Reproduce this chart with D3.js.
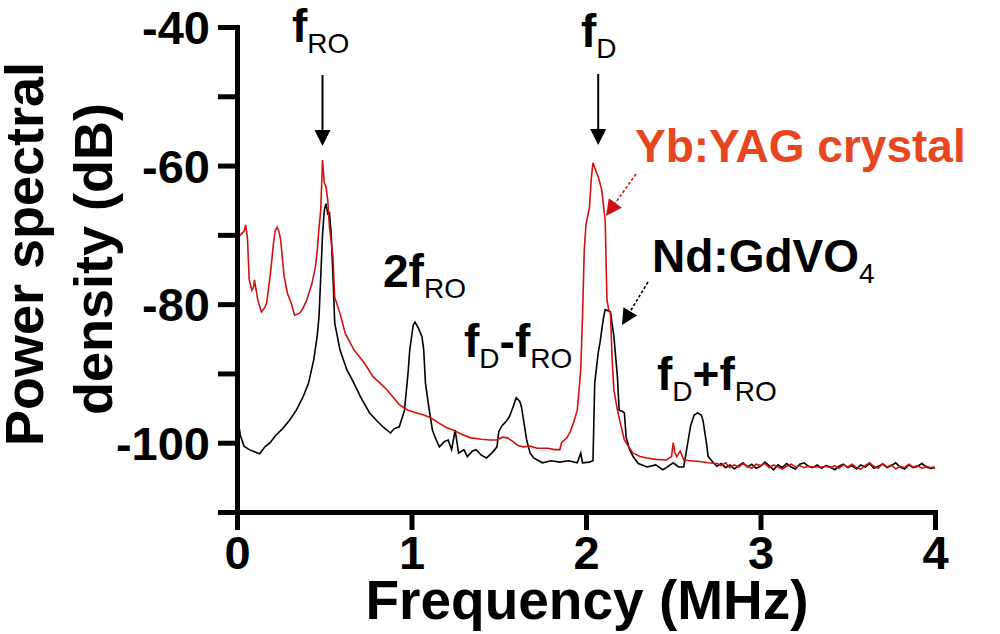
<!DOCTYPE html>
<html>
<head>
<meta charset="utf-8">
<script src="https://cdn.jsdelivr.net/npm/d3@7"></script>
<style>
  body { margin: 0; background: #fff; }
  svg text { font-family: "Liberation Sans", Arial, sans-serif; }
</style>
</head>
<body>
<script>

// ---------------- data ----------------

// Nd:GdVO4 (black)
const ndFreq = [0.00,0.02,0.04,0.07,0.10,0.13,0.16,0.19,0.22,0.26,0.30,0.34,0.38,0.41,0.44,0.46,0.47,0.48,0.49,0.50,
  0.51,0.52,0.53,0.54,0.55,0.56,0.59,0.63,0.67,0.71,0.76,0.80,0.84,0.88,0.90,0.93,0.96,0.98,0.99,1.01,
  1.02,1.04,1.06,1.07,1.08,1.10,1.12,1.14,1.16,1.19,1.21,1.23,1.25,1.27,1.30,1.32,1.35,1.37,1.40,1.43,
  1.46,1.49,1.50,1.52,1.54,1.56,1.58,1.60,1.62,1.63,1.65,1.66,1.68,1.70,1.75,1.80,1.85,1.90,1.95,1.97,
  1.98,2.02,2.04,2.05,2.07,2.08,2.10,2.11,2.13,2.14,2.16,2.18,2.19,2.21,2.22,2.23,2.25,2.27,2.30,2.35,
  2.40,2.44,2.46,2.50,2.53,2.56,2.58,2.60,2.62,2.64,2.66,2.67,2.69,2.70,2.73,
  2.750,2.775,2.800,2.825,2.850,2.875,2.900,2.925,2.950,2.975,3.000,3.025,3.050,3.075,3.100,3.125,3.150,
  3.175,3.200,3.225,3.250,3.275,3.300,3.325,3.350,3.375,3.400,3.425,3.450,3.475,3.500,3.525,3.550,3.575,
  3.600,3.625,3.650,3.675,3.700,3.725,3.750,3.775,3.800,3.825,3.850,3.875,3.900,3.925,3.950,3.975,4.000];
const ndPsd = [-96.0,-99.0,-100.5,-101.0,-101.3,-101.6,-100.6,-100.0,-99.0,-98.0,-96.8,-95.3,-93.3,-91.4,-88.0,-84.5,-81.8,-76.0,-70.0,-66.5,
  -65.5,-67.0,-66.8,-70.0,-76.0,-82.7,-86.6,-89.5,-91.4,-93.5,-95.7,-96.8,-97.8,-98.6,-98.0,-97.7,-95.3,-90.0,-86.6,-83.0,
  -82.6,-83.5,-84.7,-86.6,-91.4,-95.0,-98.2,-99.5,-100.6,-99.8,-99.6,-101.0,-98.2,-101.5,-101.0,-102.0,-101.2,-101.0,-101.8,-102.2,
  -101.5,-100.6,-98.4,-97.5,-97.0,-96.3,-95.0,-93.5,-94.0,-94.8,-98.0,-99.6,-101.5,-102.2,-102.9,-102.6,-102.8,-102.6,-102.9,-101.5,
  -102.9,-102.8,-102.6,-91.4,-87.0,-85.6,-82.0,-80.8,-81.0,-81.1,-84.7,-90.5,-95.3,-95.5,-95.7,-99.2,-101.0,-102.0,-103.0,-103.5,
  -103.2,-103.9,-103.6,-102.9,-103.5,-103.5,-100.5,-97.5,-96.0,-95.7,-96.0,-96.7,-100.0,-102.0,-102.9,
  -103.4,-103.0,-103.6,-103.2,-103.8,-103.3,-102.9,-103.5,-103.1,-103.7,-103.4,-102.8,-103.3,-103.9,-103.2,-103.6,-103.0,
  -103.5,-103.8,-103.1,-102.9,-103.4,-103.6,-103.2,-103.7,-103.3,-103.5,-103.9,-103.4,-103.1,-103.6,-103.3,-103.8,-103.2,
  -103.5,-103.0,-103.7,-103.4,-103.1,-103.6,-103.3,-102.9,-103.5,-103.8,-103.2,-103.6,-103.4,-103.0,-103.5,-103.7,-103.6];

// Yb:YAG crystal (red)
const ybFreq = [0.00,0.02,0.04,0.05,0.06,0.07,0.085,0.095,0.10,0.12,0.14,0.16,0.17,0.19,0.21,0.22,0.23,0.24,0.25,0.27,
  0.29,0.31,0.33,0.36,0.38,0.40,0.43,0.45,0.46,0.47,0.48,0.49,0.50,0.51,0.52,0.53,0.55,0.56,0.59,0.62,
  0.67,0.73,0.78,0.82,0.86,0.93,0.98,1.03,1.07,1.11,1.16,1.20,1.24,1.29,1.34,1.40,1.45,1.49,1.52,1.55,
  1.58,1.61,1.64,1.68,1.72,1.78,1.82,1.85,1.86,1.89,1.91,1.93,1.95,1.96,1.97,1.98,1.99,2.00,2.02,2.03,
  2.04,2.06,2.07,2.09,2.11,2.12,2.13,2.14,2.15,2.16,2.18,2.20,2.22,2.25,2.27,2.31,2.35,2.40,2.46,2.49,
  2.50,2.51,2.52,2.54,2.56,2.60,2.65,2.70,
  2.750,2.775,2.800,2.825,2.850,2.875,2.900,2.925,2.950,2.975,3.000,3.025,3.050,3.075,3.100,3.125,3.150,
  3.175,3.200,3.225,3.250,3.275,3.300,3.325,3.350,3.375,3.400,3.425,3.450,3.475,3.500,3.525,3.550,3.575,
  3.600,3.625,3.650,3.675,3.700,3.725,3.750,3.775,3.800,3.825,3.850,3.875,3.900,3.925,3.950,3.975,4.000];
const ybPsd = [-70.5,-70.0,-69.5,-68.6,-70.5,-76.5,-78.0,-77.5,-76.5,-79.5,-81.1,-80.5,-79.8,-76.0,-71.0,-69.3,-68.9,-69.5,-70.7,-76.0,
  -78.5,-79.8,-81.6,-81.3,-80.5,-79.4,-77.0,-74.5,-72.2,-69.0,-66.4,-59.2,-62.5,-63.0,-65.0,-68.9,-73.2,-79.0,-81.3,-84.2,
  -86.6,-88.5,-90.5,-91.4,-92.4,-94.5,-95.3,-95.7,-96.0,-96.4,-97.2,-97.8,-98.2,-98.8,-99.3,-99.5,-99.6,-99.6,-99.2,-99.3,
  -99.8,-100.4,-100.6,-100.5,-100.8,-100.8,-101.0,-101.0,-100.0,-99.3,-98.4,-97.0,-95.3,-92.5,-89.5,-81.8,-72.2,-68.5,-66.0,-62.0,
  -59.6,-61.0,-61.6,-63.5,-67.9,-79.4,-80.8,-81.3,-88.0,-92.4,-95.3,-97.5,-99.6,-100.8,-101.5,-102.0,-102.2,-102.4,-102.5,-102.0,
  -100.0,-101.5,-102.0,-101.2,-102.5,-102.6,-102.7,-102.9,
  -103.0,-103.3,-102.9,-103.6,-103.2,-103.5,-103.0,-103.4,-103.7,-103.1,-103.3,-103.0,-103.6,-103.2,-103.5,-103.8,-103.4,
  -103.1,-103.5,-103.3,-103.6,-103.4,-103.5,-103.5,-103.5,-103.4,-103.6,-103.3,-103.7,-103.2,-103.5,-103.1,-103.6,-103.8,
  -103.3,-102.9,-103.4,-103.7,-103.0,-103.5,-103.2,-103.8,-103.4,-103.6,-103.1,-103.5,-103.3,-103.7,-103.4,-103.6,-103.5];

const xTicks = [0, 1, 2, 3, 4];
const yTicks = [-40, -50, -60, -70, -80, -90, -100, -110];
const yLabelled = [-40, -60, -80, -100];


// ---------------- chart ----------------

var svg = d3.select('body').append('svg')
    .attr('width', 1000)
    .attr('height', 634);

var margin = { top: 27, right: 65, bottom: 122, left: 237 };
var width = 1000 - margin.left - margin.right;
var height = 634 - margin.top - margin.bottom;

var g = svg.append('g')
    .attr('transform', 'translate(' + margin.left + ',' + margin.top + ')');

var x = d3.scaleLinear().domain([0, 4]).range([0, width]);
var y = d3.scaleLinear().domain([-110, -40]).range([height, 0]);

// curves
var line = d3.line()
    .x(d => x(d[0]))
    .y(d => y(d[1]));

g.append('path')
    .datum(ndFreq.map((f, i) => [f, ndPsd[i]]))
    .attr('fill', 'none')
    .attr('stroke', '#000')
    .attr('stroke-width', 1.6)
    .attr('d', line);

g.append('path')
    .datum(ybFreq.map((f, i) => [f, ybPsd[i]]))
    .attr('fill', 'none')
    .attr('stroke', '#d01212')
    .attr('stroke-width', 1.6)
    .attr('d', line);

// axes
var yAxis = g.append('g')
    .call(d3.axisLeft(y)
        .tickValues(yTicks)
        .tickSize(19)
        .tickSizeOuter(0)
        .tickPadding(8)
        .tickFormat(d => yLabelled.includes(d) ? d : ''));

var xAxis = g.append('g')
    .attr('transform', 'translate(0,' + height + ')')
    .call(d3.axisBottom(x)
        .tickValues(xTicks)
        .tickSize(18)
        .tickSizeOuter(0)
        .tickPadding(6)
        .tickFormat(d3.format('d')));

[xAxis, yAxis].forEach(a => {
    a.select('.domain').attr('stroke', '#000').attr('stroke-width', 5).attr('stroke-linecap', 'square');
    a.selectAll('.tick line').attr('stroke', '#000').attr('stroke-width', 5);
    a.selectAll('.tick text')
        .attr('fill', '#000')
        .style('font-size', '47px')
        .style('font-weight', 'bold');
});
yAxis.selectAll('.tick text').attr('dy', '0.35em');

// axis titles
svg.append('text')
    .attr('x', 587).attr('y', 619)
    .attr('text-anchor', 'middle')
    .style('font-size', '55px').style('font-weight', 'bold')
    .text('Frequency (MHz)');

svg.append('text')
    .attr('transform', 'translate(43,254) rotate(-90)')
    .attr('text-anchor', 'middle')
    .style('font-size', '54px').style('font-weight', 'bold')
    .text('Power spectral');

svg.append('text')
    .attr('transform', 'translate(112,259) rotate(-90)')
    .attr('text-anchor', 'middle')
    .style('font-size', '54px').style('font-weight', 'bold')
    .text('density (dB)');

// annotations
function label(px, py, parts, color) {
    var t = svg.append('text')
        .attr('x', px).attr('y', py)
        .attr('fill', color || '#000');
    var shift = 0;
    parts.forEach(p => {
        var sub = p[1];
        var dy = sub ? 11 - shift : -shift;
        shift = sub ? 11 : 0;
        t.append('tspan')
            .attr('dy', dy)
            .style('font-size', sub ? '28px' : '46px')
            .style('font-weight', sub ? 'normal' : 'bold')
            .text(p[0]);
    });
}

label(292, 42, [['f', 0], ['RO', 1]]);
label(581, 47, [['f', 0], ['D', 1]]);
label(383, 287, [['2f', 0], ['RO', 1]]);
label(464, 357, [['f', 0], ['D', 1], ['-f', 0], ['RO', 1]]);
label(657, 390, [['f', 0], ['D', 1], ['+f', 0], ['RO', 1]]);
label(652, 272, [['Nd:GdVO', 0], ['4', 1]]);
label(635, 162, [['Yb:YAG crystal', 0]], '#e8461e');

function arrow(x1, y1, x2, y2, color, dash) {
    var ang = Math.atan2(y2 - y1, x2 - x1);
    var len = 16, half = 8;
    var bx = x2 - len * Math.cos(ang), by = y2 - len * Math.sin(ang);
    svg.append('line')
        .attr('x1', x1).attr('y1', y1)
        .attr('x2', bx).attr('y2', by)
        .attr('stroke', color)
        .attr('stroke-width', dash ? 1.6 : 2)
        .attr('stroke-dasharray', dash ? '3,2' : null);
    var px = -Math.sin(ang), py = Math.cos(ang);
    svg.append('path')
        .attr('d', 'M' + x2 + ',' + y2 +
            'L' + (bx + half * px) + ',' + (by + half * py) +
            'L' + (bx - half * px) + ',' + (by - half * py) + 'Z')
        .attr('fill', color);
}

// f_RO and f_D arrows sit over the peaks
arrow(margin.left + x(0.49), 75, margin.left + x(0.49), 146, '#000');
arrow(margin.left + x(2.07), 74, margin.left + x(2.07), 145, '#000');
arrow(636, 174, 606, 216, '#d01212', true);
arrow(648, 282, 622, 325, '#000', true);

</script>
</body>
</html>
